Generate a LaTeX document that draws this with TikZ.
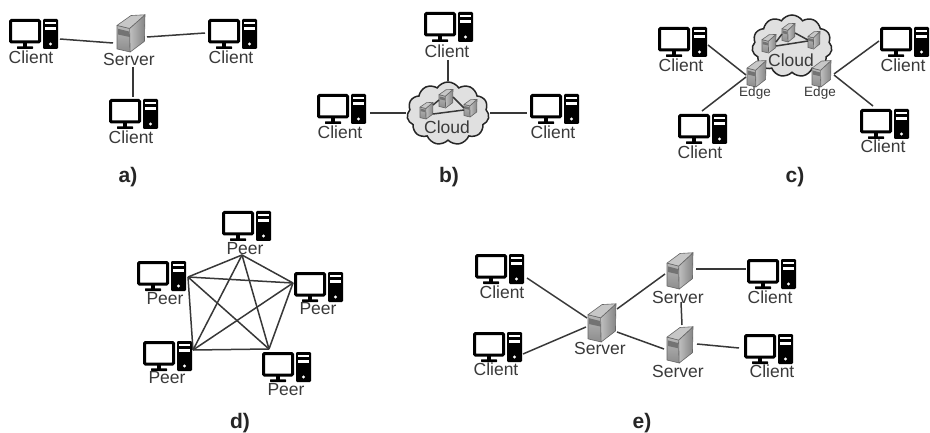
\documentclass[tikz,border=0pt]{standalone}
\usepackage{fontspec}
\setmainfont{Liberation Sans}
\usetikzlibrary{shapes.symbols}
\definecolor{ink}{HTML}{3A3A3A}
\tikzset{
  x=1pt,y=-1pt,
  pcbox/.style={rectangle,inner sep=0pt,minimum width=49pt,minimum height=30pt},
  srvbox/.style={rectangle,inner sep=0pt},
  lab/.style={inner sep=0pt,text=ink,font=\fontsize{17.5}{17.5}\selectfont},
  edgelab/.style={inner sep=0pt,text=ink,font=\fontsize{13.5}{14}\selectfont},
  captext/.style={inner sep=0pt,text=black!85,font=\fontsize{21}{21}\selectfont\bfseries},
  lnk/.style={draw=black!78,line width=1.5pt},
  cloudbox/.style={cloud,cloud puffs=11,cloud puff arc=115,draw=black!85,line width=1.5pt,fill=black!12,inner sep=0pt},
}
% PC icon with its label: name, left, top of monitor, label centre x, y, text
\newcommand{\pcn}[6]{%
  \node[pcbox] (#1) at ({#2+24.5},{#3+15}) {};
  \begin{scope}[shift={(#2,#3)}]
    \draw[line width=3pt,rounded corners=1pt,fill=white] (1.5,1.5) rectangle (30.5,23);
    \fill[black] (14,23) rectangle (18,28);
    \fill[black,rounded corners=0.5pt] (8,27.3) rectangle (24,30);
    \fill[black,rounded corners=1.2pt] (34,0) rectangle (49,30);
    \fill[white] (35.8,2.6) rectangle (47.2,5.2);
    \fill[white] (35.8,8) rectangle (47.2,10.6);
    \fill[white] (41.5,25) circle (1.6);
  \end{scope}
  \node[lab] (#1-l) at (#4,#5) {#6};
}
% server icon: name, left, top, width, height
\newcommand{\srvn}[5]{%
  \node[srvbox,minimum width=#4pt,minimum height=#5pt] (#1) at ({#2+#4/2},{#3+#5/2}) {};
  \begin{scope}[shift={(#2,#3)},x=#4pt,y=-#5pt,line width=0.6pt,draw=black!60,line join=round]
    \path[draw,top color=black!28,bottom color=black!45] (0,.30) -- (.45,.38) -- (.47,1) -- (0,.92) -- cycle;
    \path[draw,left color=black!25,right color=black!48] (.45,.38) -- (1,.02) -- (.98,.72) -- (.47,1) -- cycle;
    \path[draw,fill=black!22] (0,.30) -- (.50,.04) -- (1,.02) -- (.45,.38) -- cycle;
    \fill[black!55] (.04,.39) -- (.42,.46) -- (.42,.60) -- (.04,.54) -- cycle;
  \end{scope}
}
\newcommand{\lk}[6]{\draw[lnk] ([shift={(#2,#3)}]#1.center) -- ([shift={(#5,#6)}]#4.center);}
\begin{document}
\begin{tikzpicture}
\useasboundingbox (0,0) rectangle (930,433);
\fill[white] (0,0) rectangle (930,433);

% a)
\pcn{a1}{9}{19}{31}{57}{Client}
\pcn{a2}{208}{19}{231}{57}{Client}
\pcn{a3}{109}{99}{131}{137}{Client}
\srvn{as}{117}{14}{28}{38}
\node[lab] (as-l) at (129,59) {Server};
\lk{a1}{26.5}{5}{as}{-18}{10}
\lk{as}{16}{4}{a2}{-27.5}{-1}
\lk{as}{2}{34}{a3}{-0.5}{-17}
\node[captext] (capa) at (128,177) {a)};

% b)
\pcn{b1}{424}{12}{447}{51}{Client}
\pcn{b2}{317}{94}{340}{132}{Client}
\pcn{b3}{530}{94}{553}{132}{Client}
\node[cloudbox,minimum width=82pt,minimum height=63pt] (bc) at (448,113.5) {};
\srvn{bs1}{420}{102}{13}{17}
\srvn{bs2}{439}{89}{14}{19}
\srvn{bs3}{464}{99}{13}{18}
\node[lab] (bc-l) at (447,127) {Cloud};
\lk{b1}{-0.5}{33}{bc}{0}{-32.5}
\lk{b2}{28.5}{4}{bc}{-42}{-0.5}
\lk{bc}{42}{-0.5}{b3}{-27.5}{4}
\lk{bs1}{6.5}{-5.5}{bs2}{-7}{1.5}
\lk{bs2}{7}{-1.5}{bs3}{-6.5}{0}
\lk{bs1}{6.5}{3.5}{bs3}{-6.5}{2}
\node[captext] (capb) at (449,177) {b)};

% c)
\pcn{c1}{658}{27}{681}{65}{Client}
\pcn{c2}{678}{114}{700}{152}{Client}
\pcn{c3}{880}{27}{903}{65}{Client}
\pcn{c4}{860}{109}{883}{146}{Client}
\node[cloudbox,minimum width=80pt,minimum height=62pt] (cc) at (792,46) {};
\srvn{cs1}{762}{34}{14}{19}
\srvn{cs2}{782}{23}{13}{19}
\srvn{cs3}{808}{31}{12}{18}
\node[lab] (cc-l) at (791,60) {Cloud};
\srvn{ce1}{747}{60}{19}{27}
\srvn{ce2}{812}{60}{19}{27}
\node[edgelab] (ce1-l) at (755,93) {Edge};
\node[edgelab] (ce2-l) at (820,93) {Edge};
\lk{c1}{25.5}{3}{ce1}{-10.5}{1.5}
\lk{c2}{-0.5}{-18}{ce1}{-10.5}{3.5}
\lk{c3}{-25.5}{-1}{ce2}{12.5}{0.5}
\lk{c4}{-11.5}{-18}{ce2}{12.5}{1.5}
\lk{cs1}{7}{-1.5}{cs2}{-6.5}{1.5}
\lk{cs2}{6.5}{0.5}{cs3}{-6}{0}
\lk{cs1}{7}{2.5}{cs3}{-6}{1}
\node[captext] (capc) at (795,177) {c)};

% d)
\pcn{d1}{222}{211}{245}{249}{Peer}
\pcn{d2}{137}{261}{165}{299}{Peer}
\pcn{d3}{294}{272}{318}{309}{Peer}
\pcn{d4}{143}{341}{167}{378}{Peer}
\pcn{d5}{262}{352}{286}{390}{Peer}
\coordinate (pT) at ([shift={(-4.5,29)}]d1.center);
\coordinate (pL) at ([shift={(26.5,1)}]d2.center);
\coordinate (pR) at ([shift={(-25.5,-4)}]d3.center);
\coordinate (pA) at ([shift={(25.5,-6)}]d4.center);
\coordinate (pB) at ([shift={(-17.5,-18)}]d5.center);
\draw[lnk] (pT) -- (pL);
\draw[lnk] (pT) -- (pR);
\draw[lnk] (pT) -- (pA);
\draw[lnk] (pT) -- (pB);
\draw[lnk] (pL) -- (pR);
\draw[lnk] (pL) -- (pA);
\draw[lnk] (pL) -- (pB);
\draw[lnk] (pR) -- (pA);
\draw[lnk] (pR) -- (pB);
\draw[lnk] (pA) -- (pB);
\node[captext] (capd) at (240,423) {d)};

% e)
\pcn{e1}{475}{254}{502}{292}{Client}
\pcn{e2}{473}{332}{496}{369}{Client}
\pcn{e3}{747}{259}{770}{297}{Client}
\pcn{e4}{744}{334}{772}{371}{Client}
\srvn{ec}{588}{303}{28}{39}
\srvn{eu}{667}{252}{26}{37}
\srvn{ed}{667}{326}{26}{37}
\node[lab] (ec-l) at (600,348) {Server};
\node[lab] (eu-l) at (678,297) {Server};
\node[lab] (ed-l) at (678,371) {Server};
\lk{e1}{27.5}{9}{ec}{-15}{-4.5}
\lk{e2}{25.5}{7}{ec}{-16}{4.5}
\lk{ec}{15}{-13.5}{eu}{-15}{3.5}
\lk{ec}{15}{9.5}{ed}{-16}{4.5}
\lk{eu}{1}{31.5}{ed}{2}{-19.5}
\lk{eu}{16}{-1.5}{e3}{-25.5}{-5}
\lk{ed}{17}{-0.5}{e4}{-29.5}{-1}
\node[captext] (cape) at (642,423) {e)};
\end{tikzpicture}
\end{document}
